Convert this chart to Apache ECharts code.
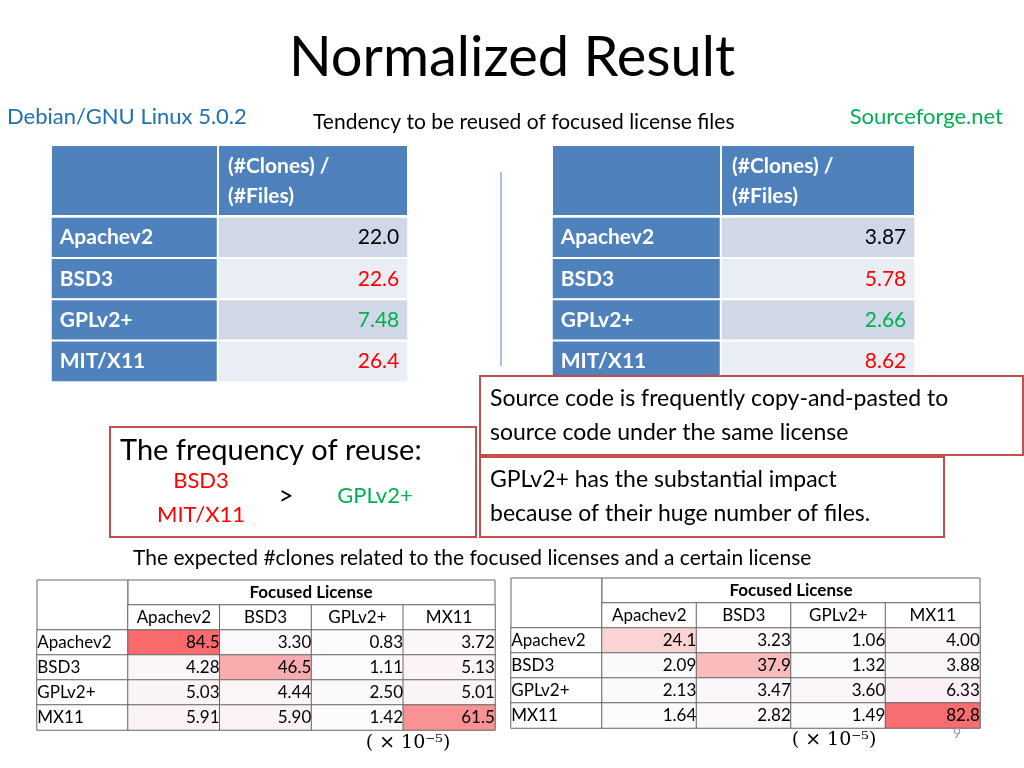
<!DOCTYPE html>
<html><head><meta charset="utf-8">
<script src="https://cdn.jsdelivr.net/npm/echarts@6/dist/echarts.min.js"></script>
<style>html,body{margin:0;padding:0;background:#fff}#c{width:1024px;height:768px}</style>
</head><body><div id="c"></div>
<script>
// ---- data ----
const topNames = ['Apachev2', 'BSD3', 'GPLv2+', 'MIT/X11'];
const debianRatio = [22.0, 22.6, 7.48, 26.4];
const sfRatio = [3.87, 5.78, 2.66, 8.62];
const ratioColors = ['#000000', '#ff0000', '#00b050', '#ff0000'];
const licenses = ['Apachev2', 'BSD3', 'GPLv2+', 'MX11'];
const debianExpected = [
  [84.5, 3.30, 0.83, 3.72],
  [4.28, 46.5, 1.11, 5.13],
  [5.03, 4.44, 2.50, 5.01],
  [5.91, 5.90, 1.42, 61.5]
];
const sfExpected = [
  [24.1, 3.23, 1.06, 4.00],
  [2.09, 37.9, 1.32, 3.88],
  [2.13, 3.47, 3.60, 6.33],
  [1.64, 2.82, 1.49, 82.8]
];

const F = 'Lato, "Open Sans", sans-serif';
const chart = echarts.init(document.getElementById('c'));
const grids = [], xAxes = [], yAxes = [], series = [], visualMaps = [];
function addGrid(left, top, width, height, xcats, ycats) {
  grids.push({left, top, width, height});
  const i = grids.length - 1;
  xAxes.push({type: 'category', gridIndex: i, data: xcats, show: false});
  yAxes.push({type: 'category', gridIndex: i, data: ycats, inverse: true, show: false});
  return i;
}
const rowIdx = topNames.map((_, i) => String(i));

// ---- top tables ----
function topTable(nameLeft, nameW, valW, vals) {
  const top = 217, h = 165;
  const g1 = addGrid(nameLeft, top, nameW, h, ['n'], rowIdx);
  series.push({type: 'heatmap', xAxisIndex: g1, yAxisIndex: g1,
    data: topNames.map((n, i) => ({value: [0, i, 0], name: n})),
    itemStyle: {color: '#4f81bd', borderColor: '#fff', borderWidth: 2},
    label: {show: true, position: 'insideLeft', distance: 10, formatter: p => p.name,
      color: '#fff', fontWeight: 'bold', fontSize: 21, fontFamily: F},
    emphasis: {disabled: true}});
  const g2 = addGrid(nameLeft + nameW, top, valW, h, ['v'], rowIdx);
  series.push({type: 'heatmap', xAxisIndex: g2, yAxisIndex: g2,
    data: vals.map((v, i) => ({value: [0, i, v],
      itemStyle: {color: i % 2 === 0 ? '#d0d8e8' : '#e9edf4'},
      label: {color: ratioColors[i]}})),
    itemStyle: {borderColor: '#fff', borderWidth: 2},
    label: {show: true, position: 'insideRight', distance: 10,
      formatter: p => p.value[2] >= 10 ? p.value[2].toFixed(1) : p.value[2].toFixed(2),
      fontSize: 21, fontFamily: F},
    emphasis: {disabled: true}});
}
topTable(51, 167, 190, debianRatio);
topTable(552, 169, 194, sfRatio);

// ---- bottom tables ----
function bottomTable(left, labW, valW, top, vals, vmIdx) {
  const rowH = 25;
  const gl = addGrid(left, top + 2 * rowH, labW, 4 * rowH, ['l'], rowIdx);
  series.push({type: 'heatmap', xAxisIndex: gl, yAxisIndex: gl,
    data: licenses.map((n, i) => ({value: [0, i, 0], name: n})),
    itemStyle: {color: '#fff', borderColor: '#666', borderWidth: 1},
    label: {show: true, position: 'insideLeft', distance: 1, formatter: p => p.name,
      color: '#000', fontSize: 17, fontFamily: F},
    emphasis: {disabled: true}});
  const gv = addGrid(left + labW, top + rowH, valW, 5 * rowH, licenses, ['h'].concat(rowIdx));
  series.push({type: 'heatmap', xAxisIndex: gv, yAxisIndex: gv,
    data: licenses.map((n, j) => ({value: [j, 0, 0], name: n})),
    itemStyle: {color: '#fff', borderColor: '#666', borderWidth: 1},
    label: {show: true, formatter: p => p.name, color: '#000', fontSize: 17, fontFamily: F},
    emphasis: {disabled: true}});
  const d = [];
  vals.forEach((row, i) => row.forEach((v, j) => d.push([j, i + 1, v])));
  series.push({type: 'heatmap', xAxisIndex: gv, yAxisIndex: gv, data: d,
    itemStyle: {borderColor: '#666', borderWidth: 1},
    label: {show: true, position: 'insideRight', distance: 1,
      formatter: p => p.value[2] >= 10 ? p.value[2].toFixed(1) : p.value[2].toFixed(2),
      color: '#000', fontSize: 17, fontFamily: F},
    emphasis: {disabled: true}});
  visualMaps.push({show: false, type: 'continuous', seriesIndex: series.length - 1,
    dimension: 2, min: 0.8, max: 85, inRange: {color: ['#fbfbfe', '#f8696b']}});
}
bottomTable(37, 91, 367, 580, debianExpected);
bottomTable(511, 91, 378, 578, sfExpected);

// ---- graphics ----
const txt = (x, y, text, size, color, extra) => Object.assign({type: 'text', x, y,
  style: {text, fontSize: size, fill: color || '#000', fontFamily: F, textVerticalAlign: 'middle'}, z: 100}, extra || {});
const box = (x, y, w, h) => ({type: 'rect', shape: {x, y, width: w, height: h},
  style: {fill: '#fff', stroke: '#c0504d', lineWidth: 2}, z: 90});
const graphic = [
  txt(512, 58, 'Normalized Result', 56, '#000', {style: {text: 'Normalized Result', fontSize: 56, fill: '#000', fontFamily: F, align: 'center', verticalAlign: 'middle'}}),
  txt(7, 117, 'Debian/GNU Linux 5.0.2', 22, '#1f6fb4'),
  txt(313, 122, 'Tendency to be reused of focused license files', 21),
  {type: 'text', x: 1003, y: 117, style: {text: 'Sourceforge.net', fontSize: 22, fill: '#00b050', fontFamily: F, align: 'right', verticalAlign: 'middle'}, z: 100},
  {type: 'line', shape: {x1: 501, y1: 172, x2: 501, y2: 366}, style: {stroke: '#8eaadb', lineWidth: 1.5}},
  // top headers
  {type: 'rect', shape: {x: 52, y: 146, width: 165, height: 69}, style: {fill: '#4f81bd'}},
  {type: 'rect', shape: {x: 219, y: 146, width: 188, height: 69}, style: {fill: '#4f81bd'}},
  txt(228, 166, '(#Clones) /', 21, '#fff', {style: {text: '(#Clones) /', fontSize: 21, fill: '#fff', fontWeight: 'bold', fontFamily: F, verticalAlign: 'middle'}}),
  txt(228, 196, '(#Files)', 21, '#fff', {style: {text: '(#Files)', fontSize: 21, fill: '#fff', fontWeight: 'bold', fontFamily: F, verticalAlign: 'middle'}}),
  {type: 'rect', shape: {x: 553, y: 146, width: 167, height: 69}, style: {fill: '#4f81bd'}},
  {type: 'rect', shape: {x: 722, y: 146, width: 192, height: 69}, style: {fill: '#4f81bd'}},
  txt(732, 166, '(#Clones) /', 21, '#fff', {style: {text: '(#Clones) /', fontSize: 21, fill: '#fff', fontWeight: 'bold', fontFamily: F, verticalAlign: 'middle'}}),
  txt(732, 196, '(#Files)', 21, '#fff', {style: {text: '(#Files)', fontSize: 21, fill: '#fff', fontWeight: 'bold', fontFamily: F, verticalAlign: 'middle'}}),
  // boxes
  box(480, 376, 543, 79),
  txt(490, 399, 'Source code is frequently copy-and-pasted to', 23),
  txt(490, 433, 'source code under the same license', 23),
  box(480, 457, 464, 80),
  txt(490, 480, 'GPLv2+ has the substantial impact', 23),
  txt(490, 514, 'because of their huge number of files.', 23),
  box(110, 427, 366, 110),
  txt(120, 451, 'The frequency of reuse:', 29),
  {type: 'text', x: 201, y: 481, style: {text: 'BSD3', fontSize: 22, fill: '#ff0000', fontFamily: F, align: 'center', verticalAlign: 'middle'}, z: 100},
  {type: 'text', x: 201, y: 515, style: {text: 'MIT/X11', fontSize: 22, fill: '#ff0000', fontFamily: F, align: 'center', verticalAlign: 'middle'}, z: 100},
  {type: 'text', x: 286, y: 497, style: {text: '>', fontSize: 26, fill: '#000', fontFamily: F, align: 'center', verticalAlign: 'middle'}, z: 100},
  {type: 'text', x: 375, y: 496, style: {text: 'GPLv2+', fontSize: 22, fill: '#00b050', fontFamily: F, align: 'center', verticalAlign: 'middle'}, z: 100},
  txt(133, 558, 'The expected #clones related to the focused licenses and a certain license', 21),
  // bottom headers
  {type: 'rect', shape: {x: 37, y: 580, width: 91, height: 50}, style: {fill: '#fff', stroke: '#666', lineWidth: 1}},
  {type: 'rect', shape: {x: 128, y: 580, width: 367, height: 25}, style: {fill: '#fff', stroke: '#666', lineWidth: 1}},
  {type: 'text', x: 311, y: 593, style: {text: 'Focused License', fontSize: 17, fontWeight: 'bold', fill: '#000', fontFamily: F, align: 'center', verticalAlign: 'middle'}, z: 100},
  {type: 'rect', shape: {x: 511, y: 578, width: 91, height: 50}, style: {fill: '#fff', stroke: '#666', lineWidth: 1}},
  {type: 'rect', shape: {x: 602, y: 578, width: 378, height: 25}, style: {fill: '#fff', stroke: '#666', lineWidth: 1}},
  {type: 'text', x: 791, y: 591, style: {text: 'Focused License', fontSize: 17, fontWeight: 'bold', fill: '#000', fontFamily: F, align: 'center', verticalAlign: 'middle'}, z: 100},
  {type: 'text', x: 408, y: 743, style: {text: '( × 10⁻⁵)', fontSize: 19, fill: '#000', fontFamily: '"DejaVu Serif", serif', align: 'center', verticalAlign: 'middle'}, z: 100},
  {type: 'text', x: 834, y: 740, style: {text: '( × 10⁻⁵)', fontSize: 19, fill: '#000', fontFamily: '"DejaVu Serif", serif', align: 'center', verticalAlign: 'middle'}, z: 100},
  {type: 'text', x: 957, y: 733, style: {text: '9', fontSize: 14, fill: '#999', fontFamily: F, align: 'center', verticalAlign: 'middle'}, z: 100}
];

chart.setOption({
  animation: false,
  grid: grids, xAxis: xAxes, yAxis: yAxes, series, visualMap: visualMaps, graphic
});
</script></body></html>
